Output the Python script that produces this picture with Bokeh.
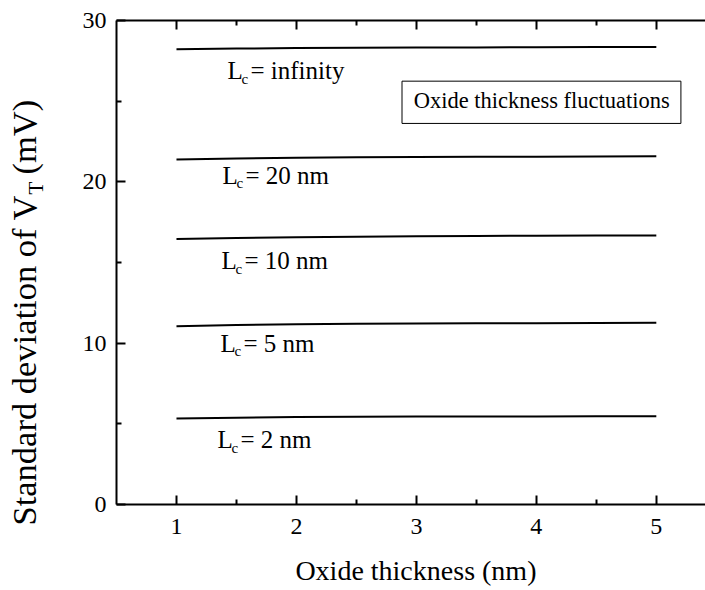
import math
from bokeh.plotting import figure
from bokeh.layouts import row, column
from bokeh.models import Range1d, LinearAxis, Label, BoxAnnotation, FixedTicker
from bokeh.embed import file_html
from bokeh.resources import INLINE

# ---------------- data ----------------
thickness = [1.0, 1.5, 2.0, 2.5, 3.0, 3.5, 4.0, 4.5, 5.0]
sigma_lc_inf = [28.22, 28.26, 28.29, 28.31, 28.32, 28.33, 28.34, 28.35, 28.35]
sigma_lc_20 = [21.38, 21.45, 21.50, 21.52, 21.54, 21.55, 21.56, 21.57, 21.58]
sigma_lc_10 = [16.45, 16.52, 16.57, 16.60, 16.62, 16.64, 16.66, 16.67, 16.68]
sigma_lc_5 = [11.05, 11.12, 11.17, 11.20, 11.22, 11.23, 11.24, 11.25, 11.26]
sigma_lc_2 = [5.33, 5.38, 5.42, 5.44, 5.45, 5.46, 5.46, 5.47, 5.47]
curve_texts = ["= infinity", "= 20 nm", "= 10 nm", "= 5 nm", "= 2 nm"]
x_ticks = [1, 2, 3, 4, 5]
x_minor = [1.5, 2.5, 3.5, 4.5]
y_ticks = [0, 10, 20, 30]
y_minor = [5, 15, 25]
box_text = "Oxide thickness fluctuations"
x_title = "Oxide thickness (nm)"
y_title_main = "Standard deviation of V"
y_title_sub = "T"
y_title_unit = "(mV)"

series = [sigma_lc_inf, sigma_lc_20, sigma_lc_10, sigma_lc_5, sigma_lc_2]

# label anchors (data units)
label_x = [1.425, 1.383, 1.375, 1.367, 1.342]
label_y = [26.88, 20.40, 15.12, 10.00, 4.01]

FONT = "Liberation Serif"

MAIN_W, MAIN_H = 649, 554
STRIP_W = 56
XT_H = 36
X_LO, X_HI = 0.5, 5.41


def blank_fig(w, h, xr):
    f = figure(width=w, height=h, x_range=xr, y_range=Range1d(0, h),
               output_backend="svg", toolbar_location=None,
               x_axis_location=None, y_axis_location=None,
               min_border=0, min_border_left=0, min_border_right=0,
               min_border_top=0, min_border_bottom=0)
    f.grid.visible = False
    f.outline_line_color = None
    f.background_fill_color = "white"
    f.border_fill_color = "white"
    return f


p = figure(width=MAIN_W, height=MAIN_H, x_range=Range1d(X_LO, X_HI), y_range=Range1d(0, 30),
           output_backend="svg", toolbar_location=None,
           min_border_left=60, min_border_right=0, min_border_top=20, min_border_bottom=50)
p.outline_line_color = None
p.grid.visible = False
p.background_fill_color = "white"
p.border_fill_color = "white"


def style_axis(ax, ticks, minor):
    ax.ticker = FixedTicker(ticks=ticks, minor_ticks=minor)
    ax.axis_line_width = 2
    ax.axis_line_color = "black"
    ax.major_tick_in = 9
    ax.major_tick_out = 0
    ax.minor_tick_in = 5
    ax.minor_tick_out = 0
    ax.major_tick_line_width = 2
    ax.minor_tick_line_width = 2
    ax.major_tick_line_color = "black"
    ax.minor_tick_line_color = "black"
    ax.major_label_text_font = FONT
    ax.major_label_text_font_size = "24px"
    ax.major_label_text_color = "black"
    ax.major_label_standoff = 14


style_axis(p.xaxis[0], x_ticks, x_minor)
style_axis(p.yaxis[0], y_ticks, y_minor)
p.yaxis[0].major_label_standoff = 10

top = LinearAxis()
style_axis(top, x_ticks, x_minor)
top.major_label_text_color = None
p.add_layout(top, "above")

for ys in series:
    p.line(thickness, ys, line_color="black", line_width=2)

for lx, ly, txt in zip(label_x, label_y, curve_texts):
    p.add_layout(Label(x=lx, y=ly, text="L", text_font=FONT, text_font_size="25px",
                       text_align="left", text_baseline="alphabetic", text_color="black"))
    p.add_layout(Label(x=lx, y=ly, x_offset=14, y_offset=-8, text="c", text_font=FONT,
                       text_font_size="15px", text_align="left", text_baseline="alphabetic",
                       text_color="black"))
    p.add_layout(Label(x=lx, y=ly, x_offset=23, text=txt, text_font=FONT,
                       text_font_size="25px", text_align="left", text_baseline="alphabetic",
                       text_color="black"))

# boxed annotation
p.add_layout(BoxAnnotation(left=2.88, right=5.205, bottom=23.62, top=26.24,
                           fill_alpha=0, line_color="black", line_alpha=1, line_width=1))
p.add_layout(Label(x=2.977, y=25.04, text=box_text, text_font=FONT, text_font_size="22.5px",
                   text_align="left", text_baseline="alphabetic", text_color="black"))

# y title strip (coordinates in pixels from its bottom-left)
ystrip = blank_fig(STRIP_W, MAIN_H + XT_H, Range1d(0, STRIP_W))
ystrip.add_layout(Label(x=23, y=65, text=y_title_main, angle=math.pi / 2, text_font=FONT,
                        text_font_size="34.5px", text_align="left", text_baseline="alphabetic",
                        text_color="black"))
ystrip.add_layout(Label(x=35.5, y=396, text=y_title_sub, angle=math.pi / 2, text_font=FONT,
                        text_font_size="21px", text_align="left", text_baseline="alphabetic",
                        text_color="black"))
ystrip.add_layout(Label(x=23, y=416, text=y_title_unit, angle=math.pi / 2, text_font=FONT,
                        text_font_size="34.5px", text_align="left", text_baseline="alphabetic",
                        text_color="black"))

# x title strip (shares the main x scale)
xstrip = blank_fig(MAIN_W, XT_H, Range1d(X_LO, X_HI))
xstrip.add_layout(Label(x=2.996, y=20, text=x_title, text_font=FONT,
                        text_font_size="28px", text_align="center", text_baseline="alphabetic",
                        text_color="black"))

layout = row(ystrip, column(p, xstrip, spacing=0), spacing=0)
open("out.html", "w").write(file_html(layout, INLINE))
